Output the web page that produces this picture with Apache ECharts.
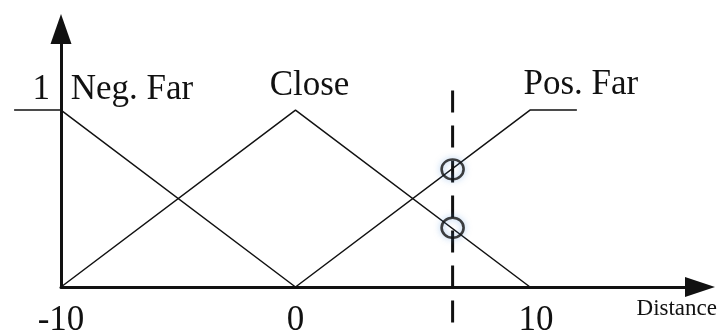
<!DOCTYPE html>
<html>
<head>
<meta charset="utf-8">
<script src="https://cdn.jsdelivr.net/npm/echarts@6/dist/echarts.min.js"></script>
<style>
  html, body { margin: 0; padding: 0; background: #fff; }
  #chart { width: 718px; height: 334px; }
</style>
</head>
<body>
<div id="chart"></div>
<script>
// membership functions, points are [distance, degree]
const negFarSet = [[-12, 1], [-10, 1], [0, 0]];
const closeSet = [[-10, 0], [0, 1], [10, 0]];
const posFarSet = [[0, 0], [10, 1], [12, 1]];
const setNames = ['Neg. Far', 'Close', 'Pos. Far'];

// tick labels
const xTicks = [-10, 0, 10];
const yTicks = [1];

// crisp input and the two degrees it hits
const inputX = 6.7;
const inputDegrees = [0.665, 0.335];
const inputSpan = [1.11, -0.23];

const serif = '"Liberation Serif", "Times New Roman", serif';
const ink = '#111';

// where each set name sits: index of the point it hangs on, and x/y shift
const nameAnchors = [
  { idx: 1, dx: 71, dy: -3 },
  { idx: 1, dx: 14, dy: -7 },
  { idx: 2, dx: 4, dy: -8 }
];

// plot grid reaches left of the y axis (down to -12), axis grid starts at -10.
// both share the same px per unit so the data lines up.
const xMax = 17.25;
const yMax = 1.458;

function setSeries(name, points, anchor) {
  return {
    name: name,
    type: 'line',
    xAxisIndex: 0,
    yAxisIndex: 0,
    data: points.map((p, i) => i === anchor.idx ? {
      value: p,
      label: {
        show: true,
        formatter: name,
        position: 'top',
        distance: 0,
        offset: [anchor.dx, anchor.dy]
      }
    } : p),
    symbol: 'circle',
    symbolSize: 0,
    clip: false,
    lineStyle: { color: ink, width: 1.5 },
    itemStyle: { color: ink },
    label: { color: ink, fontFamily: serif, fontSize: 35 },
    emphasis: { disabled: true },
    z: 3
  };
}

let chart = echarts.init(document.getElementById('chart'));

chart.setOption({
  animation: false,
  grid: [
    { left: 14.1, right: 18, top: 29, bottom: 47, outerBoundsMode: 'none' },
    { left: 61, right: 18, top: 29, bottom: 47, outerBoundsMode: 'none' }
  ],
  xAxis: [
    {
      gridIndex: 0,
      type: 'value',
      min: -12,
      max: xMax,
      show: false
    },
    {
      gridIndex: 1,
      type: 'value',
      min: -10,
      max: xMax,
      name: 'Distance',
      nameLocation: 'end',
      nameGap: 17,
      nameTextStyle: {
        fontFamily: serif,
        fontSize: 23,
        color: ink,
        align: 'right',
        verticalAlign: 'top',
        padding: [10, 0, 0, 0]
      },
      axisLine: {
        onZero: false,
        lineStyle: { color: ink, width: 3 },
        symbol: ['none', 'triangle'],
        symbolSize: [20, 30]
      },
      axisTick: { show: false },
      splitLine: { show: false },
      axisLabel: {
        customValues: xTicks,
        margin: 16,
        fontFamily: serif,
        fontSize: 35,
        color: ink,
        // the 10 sits a little right of its point in the original
        formatter: (v) => v > 0 ? '{r|' + v + '}' : String(v),
        rich: {
          r: { fontFamily: serif, fontSize: 35, color: ink, padding: [0, 0, 0, 12] }
        }
      }
    }
  ],
  yAxis: [
    {
      gridIndex: 0,
      type: 'value',
      min: 0,
      max: yMax,
      show: false
    },
    {
      gridIndex: 1,
      type: 'value',
      min: 0,
      max: yMax,
      axisLine: {
        onZero: false,
        lineStyle: { color: ink, width: 3 },
        symbol: ['none', 'triangle'],
        symbolSize: [21, 30]
      },
      axisTick: { show: false },
      splitLine: { show: false },
      axisLabel: {
        customValues: yTicks,
        margin: 11,
        verticalAlign: 'bottom',
        padding: [0, 0, 3, 0],
        fontFamily: serif,
        fontSize: 35,
        color: ink
      }
    }
  ],
  series: [
    setSeries(setNames[0], negFarSet, nameAnchors[0]),
    setSeries(setNames[1], closeSet, nameAnchors[1]),
    setSeries(setNames[2], posFarSet, nameAnchors[2]),
    {
      name: 'input',
      type: 'line',
      xAxisIndex: 1,
      yAxisIndex: 1,
      data: inputSpan.map((y) => [inputX, y]),
      symbol: 'none',
      clip: false,
      lineStyle: { color: ink, width: 3, type: [22, 13] },
      emphasis: { disabled: true },
      z: 2
    },
    {
      name: 'degrees',
      type: 'scatter',
      xAxisIndex: 1,
      yAxisIndex: 1,
      data: inputDegrees.map((d) => [inputX, d]),
      symbol: 'circle',
      symbolSize: [22, 20],
      clip: false,
      itemStyle: {
        color: 'transparent',
        borderColor: ink,
        borderWidth: 2.5,
        shadowBlur: 6,
        shadowColor: 'rgba(90, 150, 220, 0.7)'
      },
      emphasis: { disabled: true },
      z: 4
    }
  ]
});
</script>
</body>
</html>
